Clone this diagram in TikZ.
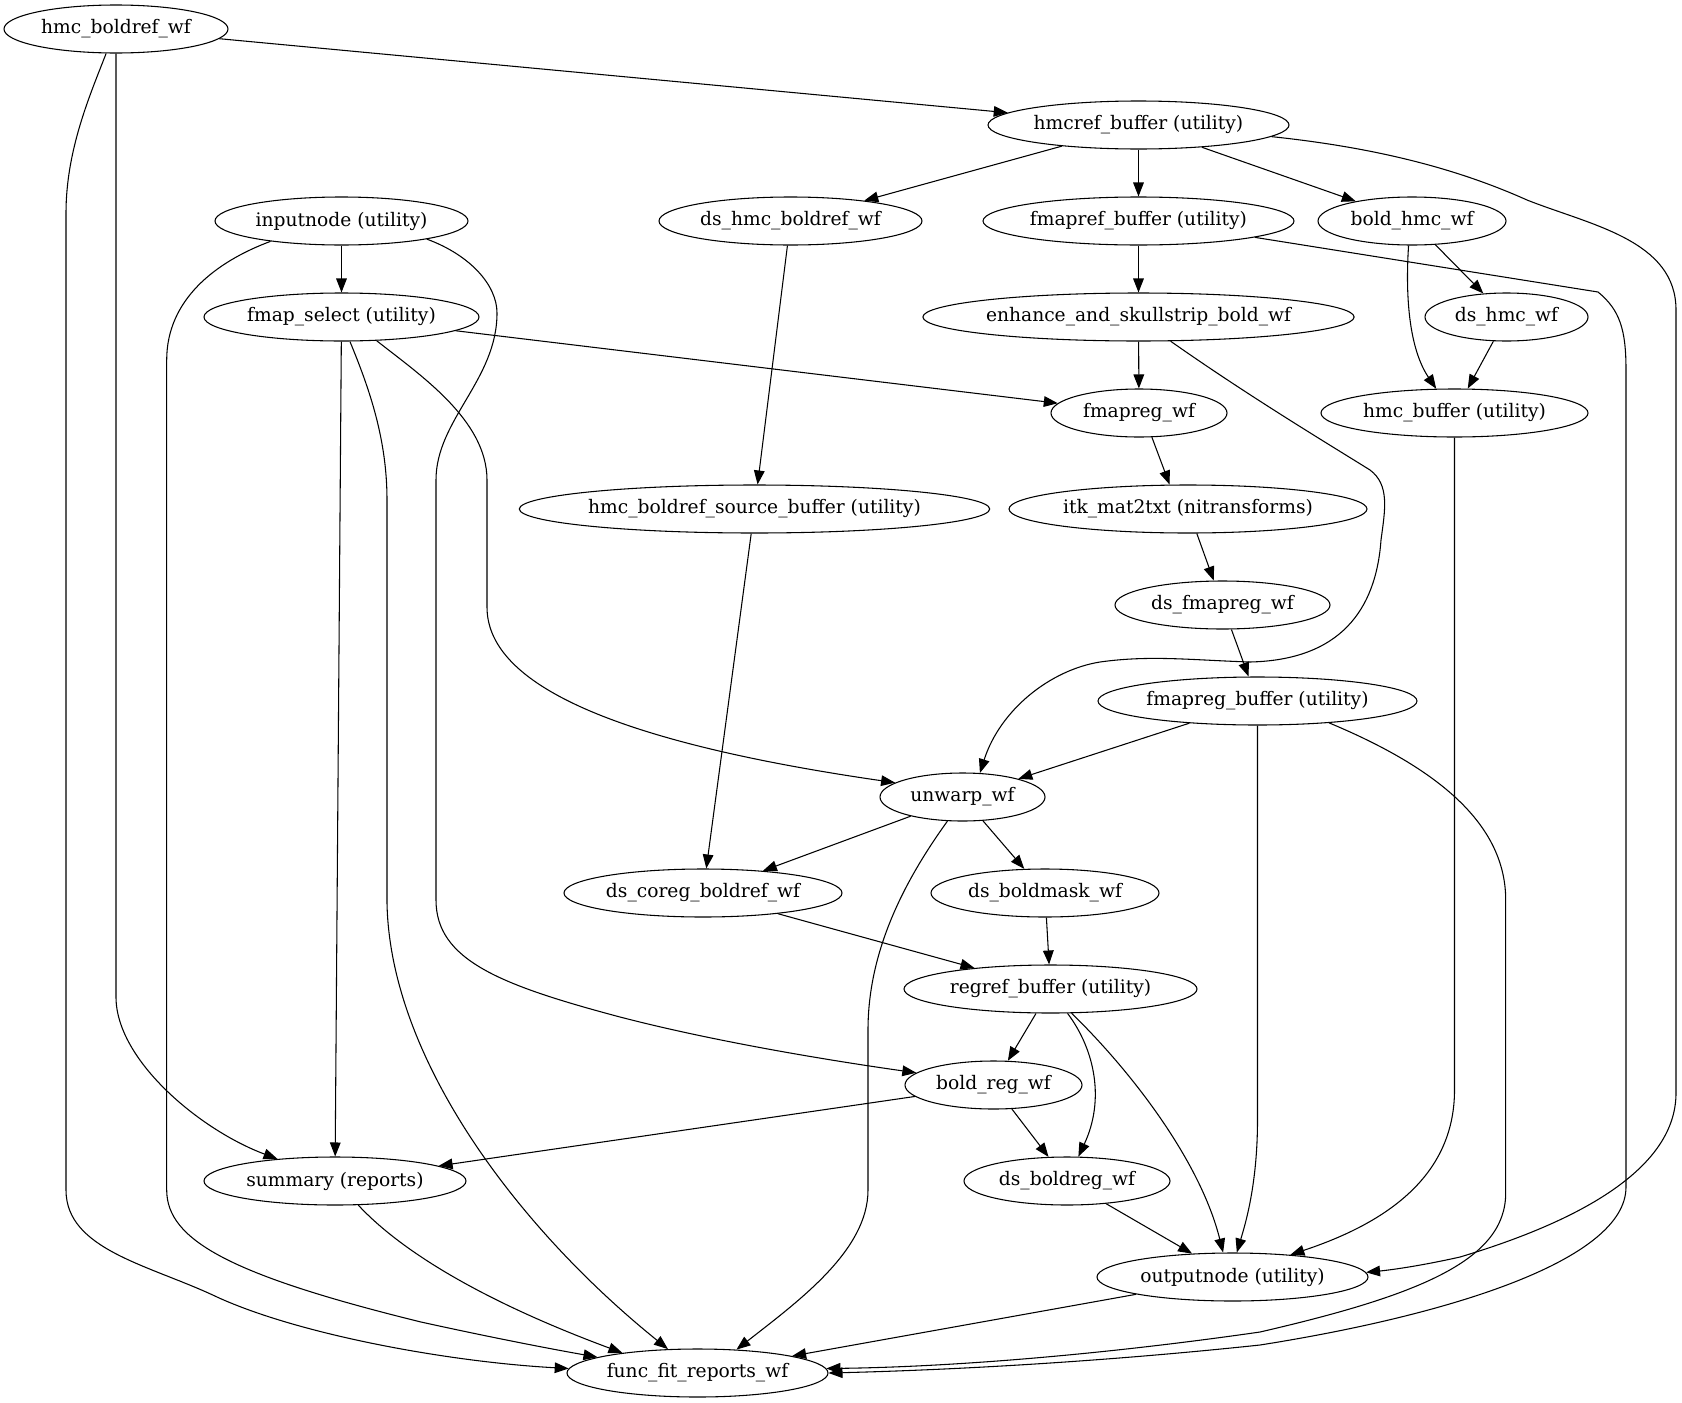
\documentclass[tikz,border=0pt]{standalone}
\usepackage{fontspec}
\setmainfont{DejaVu Serif}
\usetikzlibrary{shapes.geometric,arrows.meta}
\begin{document}
\begin{tikzpicture}[x=0.75pt,y=-0.75pt,
  gvnode/.style={ellipse, draw, line width=0.8pt, inner sep=0pt, minimum height=36pt, minimum width=#1,
    font=\fontsize{14pt}{16pt}\selectfont},
  gvedge/.style={draw, line width=0.8pt, -{Triangle[length=10.5pt,width=8pt]}}]
\useasboundingbox (0,0) rectangle (1682,1403);
% nodes
\node[gvnode=168pt]    (hbr)   at (116,29)     {hmc\_boldref\_wf};
\node[gvnode=225.75pt] (hcb)   at (1138.5,125) {hmcref\_buffer (utility)};
\node[gvnode=189.75pt] (inp)   at (341.5,221)  {inputnode (utility)};
\node[gvnode=197.25pt] (dshb)  at (790.5,221)  {ds\_hmc\_boldref\_wf};
\node[gvnode=233.25pt] (frb)   at (1138.5,221) {fmapref\_buffer (utility)};
\node[gvnode=141pt]    (bhw)   at (1412,221)   {bold\_hmc\_wf};
\node[gvnode=206.25pt] (fs)    at (341.5,317)  {fmap\_select (utility)};
\node[gvnode=318pt]    (ess)   at (1138.5,317) {enhance\_and\_skullstrip\_bold\_wf};
\node[gvnode=122.25pt] (dshw)  at (1506.5,317) {ds\_hmc\_wf};
\node[gvnode=132pt]    (frw)   at (1139,413)   {fmapreg\_wf};
\node[gvnode=200.25pt] (hb)    at (1454.5,413) {hmc\_buffer (utility)};
\node[gvnode=345.75pt] (hbsb)  at (754.5,509)  {hmc\_boldref\_source\_buffer (utility)};
\node[gvnode=268.5pt]  (itk)   at (1188,509)   {itk\_mat2txt (nitransforms)};
\node[gvnode=161.25pt] (dsfr)  at (1222.5,605) {ds\_fmapreg\_wf};
\node[gvnode=239.25pt] (frbuf) at (1257.5,701) {fmapreg\_buffer (utility)};
\node[gvnode=123.75pt] (uw)    at (962.5,797)  {unwarp\_wf};
\node[gvnode=208.5pt]  (dscb)  at (703,893)    {ds\_coreg\_boldref\_wf};
\node[gvnode=171pt]    (dsbm)  at (1045,893)   {ds\_boldmask\_wf};
\node[gvnode=219.75pt] (rrb)   at (1050.5,989) {regref\_buffer (utility)};
\node[gvnode=132.75pt] (brw)   at (993.5,1085) {bold\_reg\_wf};
\node[gvnode=196.5pt]  (sum)   at (335,1181)   {summary (reports)};
\node[gvnode=154.5pt]  (dsbr)  at (1067,1181)  {ds\_boldreg\_wf};
\node[gvnode=203.25pt] (out)   at (1232.5,1277){outputnode (utility)};
\node[gvnode=195.75pt] (ffr)   at (697.5,1373) {func\_fit\_reports\_wf};
% edges
\draw[gvedge] (hbr) -- (hcb);
\draw[gvedge] (hbr.south) -- (116,997) .. controls (116,1060) and (200,1130) .. (sum.159);
\draw[gvedge] (hbr.-112.6) .. controls (90,95) and (66,150) .. (66,213) -- (66,1190)
   .. controls (66,1250) and (150,1265) .. (217,1297) .. controls (300,1335) and (450,1362) .. (ffr.178);
\draw[gvedge] (hcb) -- (dshb);
\draw[gvedge] (hcb) -- (frb);
\draw[gvedge] (hcb) -- (bhw);
\draw[gvedge] (hcb.-5) .. controls (1380,148) and (1460,170) .. (1527,200)
   .. controls (1590,225) and (1676,240) .. (1676,310) -- (1676,1093)
   .. controls (1676,1160) and (1600,1215) .. (1460,1257) .. controls (1420,1266) and (1390,1270) .. (out.2);
\draw[gvedge] (inp) -- (fs);
\draw[gvedge] (inp.-164) .. controls (215,262) and (166.7,300) .. (166.7,360) -- (166.7,1190)
   .. controls (166.7,1240) and (230,1275) .. (421,1322) .. controls (480,1335) and (540,1347) .. (ffr.171);
\draw[gvedge] (inp.-12) .. controls (470,255) and (497,285) .. (497,313)
   .. controls (497,380) and (436,420) .. (436,480) -- (436,900)
   .. controls (436,960) and (500,985) .. (620,1017) .. controls (720,1043) and (840,1062) .. (brw.171);
\draw[gvedge] (fs) -- (frw);
\draw[gvedge] (fs.-34.5) .. controls (420,375) and (487,420) .. (487,480) -- (487,607)
   .. controls (487,680) and (600,740) .. (uw.168.6);
\draw[gvedge] (fs) -- (sum);
\draw[gvedge] (fs.-71) .. controls (370,390) and (387,440) .. (387,500) -- (387,903)
   .. controls (390,1060) and (520,1230) .. (ffr.141);
\draw[gvedge] (dshb) -- (hbsb);
\draw[gvedge] (frb) -- (ess);
\draw[gvedge] (frb.-8) -- (1598,292) .. controls (1620,310) and (1626,330) .. (1626,370) -- (1626,1187)
   .. controls (1626,1260) and (1450,1315) .. (1260,1345) .. controls (1100,1362) and (950,1370) .. (ffr.0);
\draw[gvedge] (bhw) -- (dshw);
\draw[gvedge] (bhw.-98) .. controls (1405,300) and (1410,350) .. (hb.127);
\draw[gvedge] (ess) -- (frw);
\draw[gvedge] (ess.-37) .. controls (1250,397) and (1330,445) .. (1370,470)
   .. controls (1390,485) and (1385,510) .. (1381,540)
   .. controls (1376,610) and (1340,660) .. (1250,662)
   .. controls (1190,660) and (1150,655) .. (1100,662)
   .. controls (1050,670) and (1000,710) .. (uw.54);
\draw[gvedge] (dshw) -- (hb);
\draw[gvedge] (frw.-62.5) -- (itk.127);
\draw[gvedge] (hbsb) -- (dscb);
\draw[gvedge] (itk) -- (dsfr);
\draw[gvedge] (dsfr) -- (frbuf);
\draw[gvedge] (frbuf) -- (uw);
\draw[gvedge] (frbuf.south) -- (1257.5,1120) .. controls (1257.5,1185) and (1245,1225) .. (out.80);
\draw[gvedge] (frbuf.-17) .. controls (1430,765) and (1505.7,820) .. (1505.7,900) -- (1505.7,1193)
   .. controls (1505.7,1260) and (1420,1295) .. (1260,1332) .. controls (1100,1355) and (950,1367) .. (ffr.2);
\draw[gvedge] (uw) -- (dscb);
\draw[gvedge] (uw) -- (dsbm);
\draw[gvedge] (uw.-122) .. controls (905,880) and (868,950) .. (868,1030) -- (868,1190)
   .. controls (868,1250) and (800,1300) .. (ffr.31);
\draw[gvedge] (dscb) -- (rrb);
\draw[gvedge] (dsbm) -- (rrb);
\draw[gvedge] (rrb) -- (brw);
\draw[gvedge] (rrb.-55) .. controls (1095,1050) and (1105,1100) .. (dsbr.65);
\draw[gvedge] (rrb.-49) .. controls (1130,1070) and (1200,1160) .. (out.111);
\draw[gvedge] (brw) -- (sum);
\draw[gvedge] (brw) -- (dsbr);
\draw[gvedge] (sum.-46) .. controls (400,1250) and (480,1300) .. (ffr.165);
\draw[gvedge] (dsbr) -- (out);
\draw[gvedge] (out) -- (ffr);
\draw[gvedge] (hb.south) -- (1454.5,1090) .. controls (1454.5,1180) and (1380,1225) .. (out.21);
\end{tikzpicture}
\end{document}
